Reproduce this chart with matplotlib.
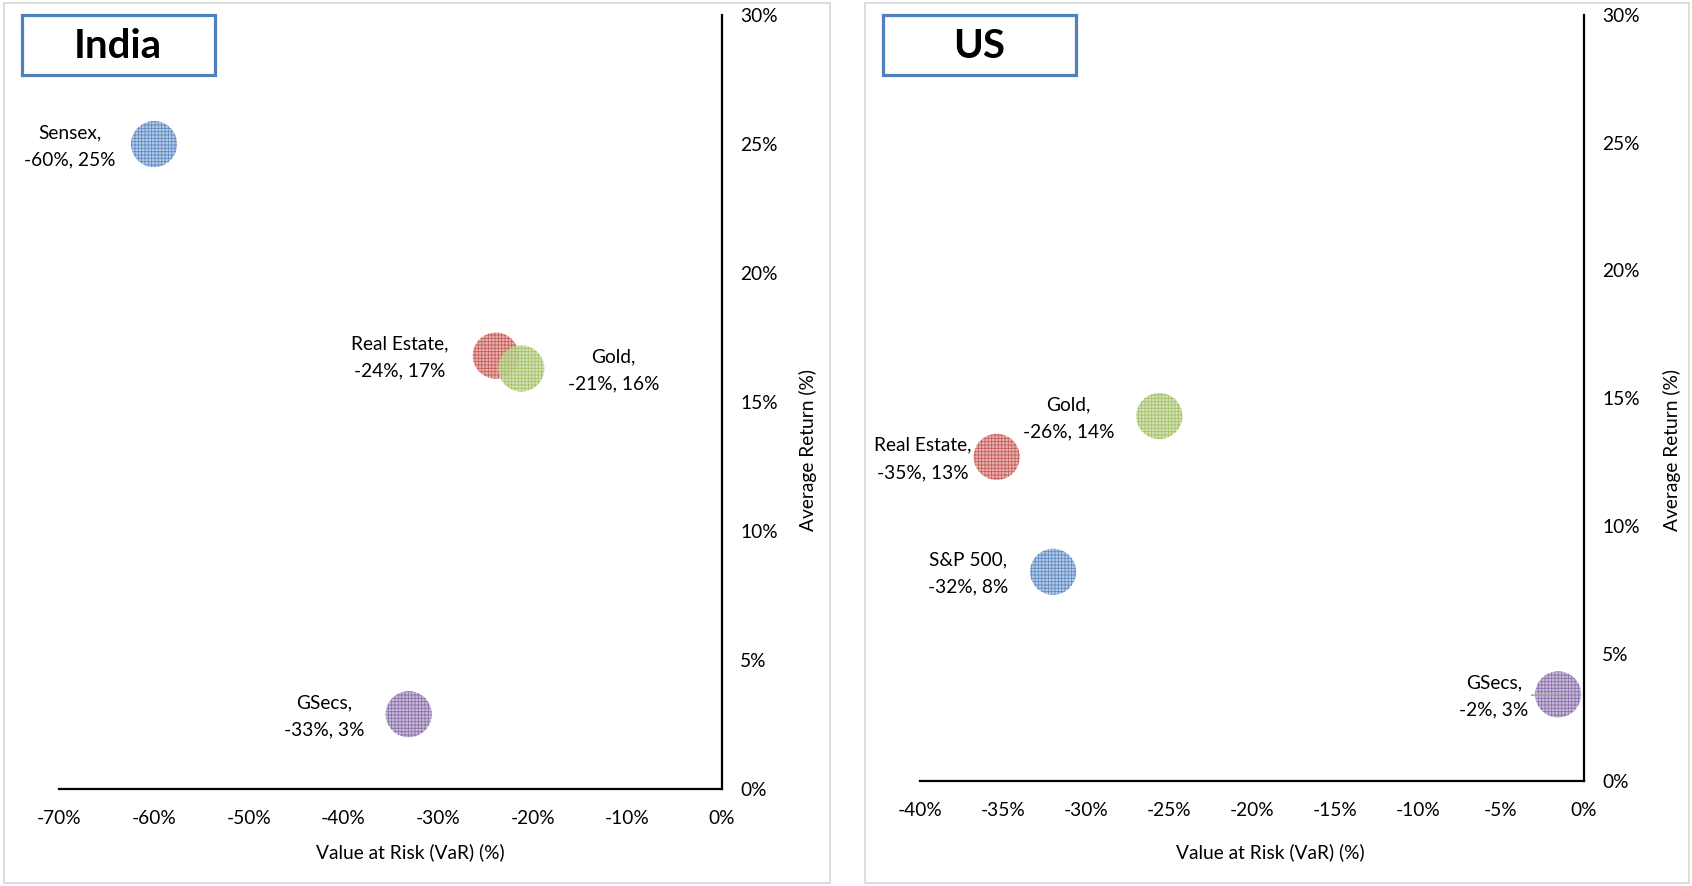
import matplotlib
matplotlib.use("Agg")
import matplotlib.pyplot as plt
from matplotlib.patches import Rectangle
from matplotlib.ticker import PercentFormatter, MultipleLocator

plt.rcParams["font.family"] = ["Lato", "DejaVu Sans"]
plt.rcParams["axes.unicode_minus"] = False
plt.rcParams["hatch.linewidth"] = 0.6

# India: asset classes, value at risk vs average return
india_assets = ["Sensex", "Real Estate", "Gold", "GSecs"]
india_var = [-0.600, -0.239, -0.212, -0.331]
india_ret = [0.250, 0.168, 0.163, 0.029]

# US: asset classes, value at risk vs average return
us_assets = ["Real Estate", "Gold", "S&P 500", "GSecs"]
us_var = [-0.354, -0.256, -0.320, -0.0156]
us_ret = [0.127, 0.143, 0.082, 0.034]

x_label = "Value at Risk (VaR) (%)"
y_label = "Average Return (%)"

COLORS = {
    "Sensex": ("#4F81BD", "#A9C1E0"),
    "S&P 500": ("#4F81BD", "#A9C1E0"),
    "Real Estate": ("#C0504D", "#E3A5A3"),
    "Gold": ("#9BBB59", "#CEDDAD"),
    "GSecs": ("#8064A2", "#BFB1D1"),
}

FS = 13.8

W, H = 1692, 886
fig = plt.figure(figsize=(W / 100, H / 100), dpi=100)


def fx(px):
    return px / W


def fy(py):
    return 1 - py / H


def panel(frame, axrect, title_box, title, assets, var, ret, xlim, xstep,
          label_dx, xlabel_pos, ylabel_pos, leader=()):
    # light grey frame around each panel
    x0, y0, x1, y1 = frame
    fig.patches.append(Rectangle((fx(x0), fy(y1)), fx(x1 - x0), (y1 - y0) / H,
                                 transform=fig.transFigure, fill=False,
                                 edgecolor="#D9D9D9", linewidth=1.3))
    # title box
    bx0, by0, bx1, by1 = title_box
    fig.patches.append(Rectangle((fx(bx0), fy(by1)), fx(bx1 - bx0), (by1 - by0) / H,
                                 transform=fig.transFigure, fill=True,
                                 facecolor="white", edgecolor="#4F81BD",
                                 linewidth=2.3, zorder=5))
    fig.text(fx((bx0 + bx1) / 2), fy((by0 + by1) / 2 + 2), title, ha="center",
             va="center", fontsize=29, fontweight="bold", zorder=6)

    ax0, ay0, ax1, ay1 = axrect
    ax = fig.add_axes([fx(ax0), fy(ay1), fx(ax1 - ax0), (ay1 - ay0) / H])
    for name, x, y in zip(assets, var, ret):
        edge, face = COLORS[name]
        ax.scatter([x], [y], s=1100, facecolor=face, edgecolor=edge,
                   hatch="+++++", linewidths=0, alpha=0.85, zorder=2)
    for name, x, y in zip(assets, var, ret):
        txt = f"{name},\n{x * 100:.0f}%, {y * 100:.0f}%"
        kw = {}
        if name in leader:
            kw["arrowprops"] = dict(arrowstyle="-", color="#A6A6A6", lw=1.2,
                                    shrinkA=0, shrinkB=0)
        ax.annotate(txt, (x, y), xytext=(label_dx[name], -2),
                    textcoords="offset pixels", ha="center", va="center",
                    multialignment="center", fontsize=FS, linespacing=1.72,
                    **kw)

    ax.set_xlim(*xlim)
    ax.set_ylim(0, 0.30)
    ax.xaxis.set_major_locator(MultipleLocator(xstep))
    ax.yaxis.set_major_locator(MultipleLocator(0.05))
    ax.xaxis.set_major_formatter(PercentFormatter(1.0, decimals=0))
    ax.yaxis.set_major_formatter(PercentFormatter(1.0, decimals=0))
    ax.yaxis.tick_right()
    ax.tick_params(axis="both", length=0, labelsize=FS)
    ax.tick_params(axis="x", pad=15)
    ax.tick_params(axis="y", pad=13)
    for side in ("top", "left"):
        ax.spines[side].set_visible(False)
    for side in ("right", "bottom"):
        ax.spines[side].set_linewidth(1.6)
        ax.spines[side].set_color("black")
    ax.patch.set_visible(False)

    ax.set_xlabel(x_label, fontsize=FS)
    ax.xaxis.set_label_coords(*xlabel_pos)
    ax.text(ylabel_pos[0], ylabel_pos[1], y_label, rotation=90, ha="center",
            va="center", fontsize=FS, transform=ax.transAxes)
    return ax


panel(frame=(4, 3, 830, 883), axrect=(59.4, 15.1, 722, 789),
      title_box=(21.6, 15.1, 214.7, 74.5), title="India",
      assets=india_assets, var=india_var, ret=india_ret,
      xlim=(-0.70, 0.0), xstep=0.10,
      label_dx={"Sensex": -84, "Real Estate": -96, "Gold": 92, "GSecs": -84},
      xlabel_pos=(0.529, -0.070), ylabel_pos=(1.13, 0.438))

panel(frame=(865, 3, 1689, 883), axrect=(920.4, 15.1, 1584, 781.2),
      title_box=(882.6, 15.1, 1075.8, 74.5), title="US",
      assets=us_assets, var=us_var, ret=us_ret,
      xlim=(-0.40, 0.0), xstep=0.05,
      label_dx={"Real Estate": -74, "Gold": -91, "S&P 500": -85, "GSecs": -64},
      xlabel_pos=(0.527, -0.081), ylabel_pos=(1.133, 0.432), leader=("GSecs",))

fig.savefig("out.png", dpi=100, facecolor="white")
